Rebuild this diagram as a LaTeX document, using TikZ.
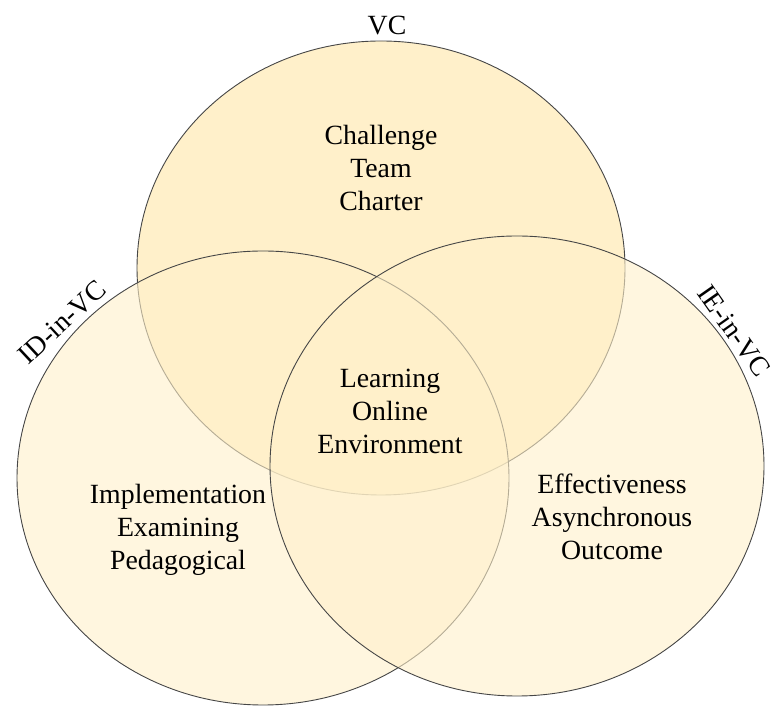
\documentclass[tikz,border=0pt]{standalone}
\usepackage{fontspec}
\setmainfont{Liberation Serif}
\definecolor{venn}{RGB}{255,240,202}
\definecolor{edge}{RGB}{70,70,70}
\tikzset{
  setshape/.style={draw=edge, line width=0.9pt, fill=venn},
  lbl/.style={align=center, font=\fontsize{27.8}{33}\selectfont, inner sep=0pt},
  setname/.style={font=\fontsize{27.8}{33}\selectfont, inner sep=0pt}
}
\begin{document}
\begin{tikzpicture}[x=1pt,y=1pt]
\useasboundingbox (0,0) rectangle (776,706);
% sets (drawn top, left, right)
\draw[setshape] (381,438) ellipse [x radius=244, y radius=227];
\draw[setshape, fill opacity=0.6] (263,228) ellipse [x radius=246, y radius=227];
\draw[setshape, fill opacity=0.6] (517,240) ellipse [x radius=247, y radius=230];
% set names
\node[setname] (vc) at (387,680) {VC};
\node[setname, rotate=43] (id) at (62,384) {ID-in-VC};
\node[setname, rotate=-55] (ie) at (734,375) {IE-in-VC};
% region texts
\node[lbl] (top) at (381,538) {Challenge\\Team\\Charter};
\node[lbl] (mid) at (390,295) {Learning\\Online\\Environment};
\node[lbl] (left) at (178,176) {Implementation\\Examining\\Pedagogical};
\node[lbl] (right) at (612,189) {Effectiveness\\Asynchronous\\Outcome};
\end{tikzpicture}
\end{document}
